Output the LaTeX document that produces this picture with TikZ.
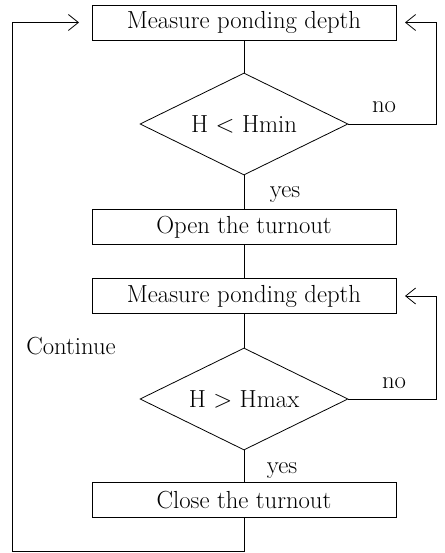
\documentclass[tikz,border=0pt]{standalone}
\usetikzlibrary{shapes.geometric,arrows.meta}
\begin{document}
\begin{tikzpicture}[x=1pt,y=-1pt,
  every node/.style={font=\fontsize{24.7}{30}\selectfont},
  procbox/.style={draw, line width=0.8pt, rectangle, minimum width=304pt, minimum height=35pt, inner sep=0pt},
  decision/.style={draw, line width=0.8pt, diamond, aspect=2.04, minimum width=208pt, minimum height=102pt, inner sep=0pt},
  conn/.style={line width=0.8pt},
  arr/.style={line width=0.8pt, -{Straight Barb[length=10pt,width=16pt]}},
  lbl/.style={inner sep=0pt, anchor=base}]
\useasboundingbox (0,0) rectangle (444,553);
\node[procbox] (m1) at (244,22.5) {Measure ponding depth};
\node[decision] (d1) at (244,124) {H $<$ Hmin};
\node[procbox] (open) at (244,227) {Open the turnout};
\node[procbox] (m2) at (244,296) {Measure ponding depth};
\node[decision] (d2) at (244,399) {H $>$ Hmax};
\node[procbox] (close) at (244,500) {Close the turnout};

\coordinate (r1) at (436,124);
\coordinate (r1t) at (436,22.5);
\coordinate (r2) at (436,399);
\coordinate (r2t) at (436,296);
\coordinate (bb) at (244,551.5);
\coordinate (bl) at (12.5,551.5);
\coordinate (tl) at (12.5,22.5);
\coordinate (a1) at (79,22.5);
\coordinate (a2) at (405,22.5);
\coordinate (a3) at (405,296);

\draw[conn] (m1) -- (d1);
\draw[conn] (d1) -- (open);
\draw[conn] (open) -- (m2);
\draw[conn] (m2) -- (d2);
\draw[conn] (d2) -- (close);
\draw[arr] (d1.east) -- (r1) -- (r1t) -- (a2);
\draw[arr] (d2.east) -- (r2) -- (r2t) -- (a3);
\draw[arr] (close.south) -- (bb) -- (bl) -- (tl) -- (a1);

\node[lbl] (no1) at (384,113) {no};
\node[lbl] (yes1) at (285,197) {yes};
\node[lbl] (no2) at (394,388) {no};
\node[lbl] (yes2) at (282,473) {yes};
\node[lbl] (cont) at (71,354) {Continue};
\end{tikzpicture}
\end{document}
